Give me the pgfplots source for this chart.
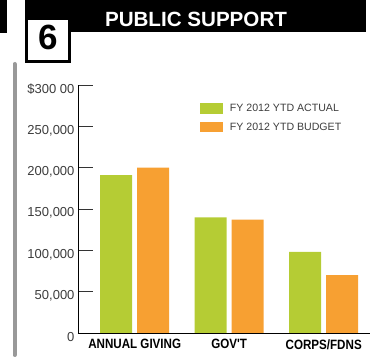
\documentclass[border=0pt]{standalone}
\usepackage{pgfplots}
\pgfplotsset{compat=1.18}
\usepackage{fontspec}
\setmainfont{Liberation Sans}
\newfontfamily\condfont{Liberation Sans}[FakeStretch=0.86]
\definecolor{cgreen}{RGB}{181,204,52}
\definecolor{corange}{RGB}{247,160,50}
\definecolor{txt}{RGB}{60,60,60}
\pgfplotsset{sqlegend/.style={legend image code/.code={\fill[##1] (0pt,-5.3pt) rectangle (22.7pt,5.3pt);}}}
\begin{document}
\begin{tikzpicture}
\path (0pt,0pt) rectangle (375pt,361pt);
\fill[black] (0pt,328pt) rectangle (7pt,361pt);
\fill[black] (25pt,329.3pt) rectangle (366pt,361pt);
\draw[black, line width=3pt, fill=white] (26.5pt,299.5pt) rectangle (69.5pt,342.5pt);
\node[inner sep=0pt] at (48pt,323.5pt) {\fontsize{35}{35}\selectfont\bfseries 6};
\node[white, inner sep=0pt] at (196pt,341.8pt) {\fontsize{20.6}{21}\selectfont\bfseries PUBLIC SUPPORT};
\draw[line width=4pt, line cap=round, black!40] (14.5pt,297pt) -- (14.5pt,6pt);
\begin{axis}[
  at={(78pt,28pt)}, anchor=south west,
  scale only axis, width=292pt, height=248pt,
  xmin=-0.6, xmax=2.49, ymin=0, ymax=300000,
  axis x line*=bottom, axis y line*=left,
  axis line style={black, line width=0.7pt},
  xtick={0,1,2},
  xticklabels={ANNUAL GIVING, GOV'T, CORPS/FDNS},
  x tick style={draw=none},
  xticklabel style={font=\condfont\bfseries\fontsize{13.5}{14}\selectfont, text=black, yshift=-3pt},
  ytick={0,50000,100000,150000,200000,250000,300000},
  yticklabels={0,{50,000},{100,000},{150,000},{200,000},{250,000},{\$300 00}},
  scaled y ticks=false,
  tick align=inside, major tick length=15pt,
  y tick style={black!80, line width=0.6pt},
  yticklabel style={font=\fontsize{13}{14}\selectfont, text=txt, yshift=-4pt},
  legend style={at={(rel axis cs:0.418,0.933)}, anchor=north west, draw=none, fill=none,
    inner sep=0pt, row sep=6pt, font=\fontsize{10.6}{12}\selectfont, text=txt,
    /tikz/every odd column/.append style={column sep=5pt}},
  legend cell align=left,
]
\addplot[ybar, bar width=32pt, bar shift=-18.5pt, fill=cgreen, draw=none, sqlegend]
  coordinates {(0,191000) (1,140000) (2,98000)};
\addplot[ybar, bar width=32pt, bar shift=18.5pt, fill=corange, draw=none, sqlegend]
  coordinates {(0,200000) (1,137000) (2,70000)};
\legend{FY 2012 YTD ACTUAL, FY 2012 YTD BUDGET}
\end{axis}
\end{tikzpicture}
\end{document}
